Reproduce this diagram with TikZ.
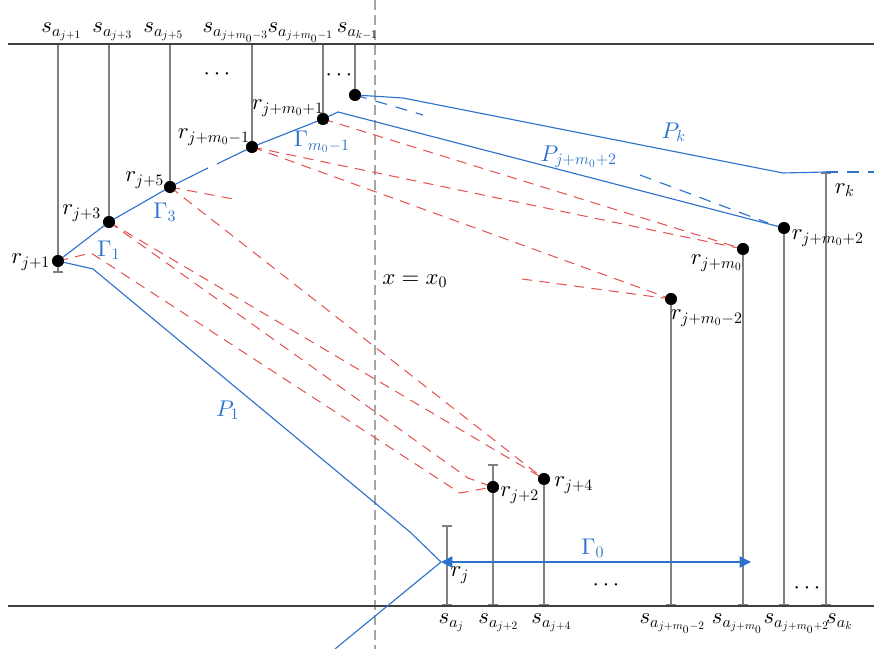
\documentclass[tikz,border=0pt]{standalone}
\usetikzlibrary{arrows.meta}
\DeclareFontFamily{OML}{cmm}{\skewchar\font127 }
\DeclareFontShape{OML}{cmm}{m}{it}{<-> cmmi10}{}
\DeclareFontFamily{OT1}{cmr}{\hyphenchar\font45 }
\DeclareFontShape{OT1}{cmr}{m}{n}{<-> cmr10}{}
\DeclareFontFamily{OMS}{cmsy}{\skewchar\font48 }
\DeclareFontShape{OMS}{cmsy}{m}{n}{<-> cmsy10}{}
\definecolor{pathblue}{RGB}{45,115,205}
\definecolor{cutred}{RGB}{228,82,82}
\tikzset{
    dot/.style={circle, fill=black, inner sep=0pt, minimum size=5.2pt},
    stem/.style={gray, line width=1pt, {Bar[width=4.5pt]}-{Bar[width=4.5pt]}},
    stemtop/.style={gray, line width=1pt, -{Bar[width=4.5pt]}},
    gpath/.style={pathblue, line width=0.5pt},
    gdash/.style={pathblue, line width=0.5pt, dash pattern=on 5.3pt off 4pt},
    cut/.style={cutred, line width=0.45pt, dash pattern=on 4.5pt off 3.2pt},
    axisline/.style={gray!70, line width=0.8pt, dash pattern=on 4.4pt off 2.2pt},
    bluelabel/.style={text=pathblue}
}
\begin{document}
\begin{tikzpicture}[x=0.44pt, y=-0.44pt]
                \useasboundingbox (0, 0) rectangle (874, 649);
                \coordinate (tl) at (8, 44);
                \coordinate (tr) at (874, 44);
                \coordinate (bl) at (8, 606);
                \coordinate (br) at (874, 606);
                \coordinate (xt) at (375, 0);
                \coordinate (xb) at (375, 649);
                \draw (xt)--(xb) [axisline];

                \coordinate (t1) at (58, 44);
                \coordinate (t3) at (109, 44);
                \coordinate (t5) at (170, 44);
                \coordinate (tm1) at (252, 44);
                \coordinate (tp1) at (323, 44);
                \coordinate (tk1) at (355, 44);
                \coordinate (e1) at (58, 273);
                \coordinate (ep1) at (323, 124);
                \coordinate (b0) at (447, 606);
                \coordinate (b2) at (493, 606);
                \coordinate (b4) at (544, 606);
                \coordinate (bm2) at (671, 606);
                \coordinate (bm) at (743, 606);
                \coordinate (bp2) at (784, 606);
                \coordinate (bk) at (826, 606);
                \coordinate (e0) at (447, 525);
                \coordinate (e2) at (493, 464);
                \coordinate (rk) at (826, 172);
                \coordinate (rj) at (441, 562);
                \coordinate (g0) at (751, 562);

                \node[dot] (r1) at (58, 261) {};
                \node[dot] (r3) at (109, 222) {};
                \node[dot] (r5) at (170, 187) {};
                \node[dot] (rm1) at (252, 147) {};
                \node[dot] (rp1) at (323, 119) {};
                \node[dot] (rk1) at (355, 95) {};
                \node[dot] (r2) at (493, 487) {};
                \node[dot] (r4) at (544, 479) {};
                \node[dot] (rm2) at (671, 299) {};
                \node[dot] (rm) at (743, 249) {};
                \node[dot] (rp2) at (784, 228) {};

                \draw (t1)--(e1) [stemtop];
                \draw (t3)--(r3.center) [stemtop];
                \draw (t5)--(r5.center) [stemtop];
                \draw (tm1)--(rm1.center) [stemtop];
                \draw (tp1)--(ep1) [stemtop];
                \draw (tk1)--(rk1.center) [stemtop];
                \draw (b0)--(e0) [stem];
                \draw (b2)--(e2) [stem];
                \draw (b4)--(r4.center) [stem];
                \draw (bm2)--(rm2.center) [stem];
                \draw (bm)--(rm.center) [stem];
                \draw (bp2)--(rp2.center) [stem];
                \draw (bk)--(rk) [stem];
                \draw (tl)--(tr) [black!75, line width=0.6pt];
                \draw (bl)--(br) [black!75, line width=0.6pt];

                \coordinate (ga) at (208, 168);
                \coordinate (gb) at (217, 164);
                \coordinate (q1) at (338, 112);
                \coordinate (k1) at (403, 98);
                \coordinate (k2) at (783, 173);
                \coordinate (kend) at (874, 172);
                \coordinate (ks) at (423, 115);
                \coordinate (da) at (640, 175);
                \coordinate (db) at (768, 223);
                \coordinate (p1) at (93, 269);
                \coordinate (p2) at (410, 532);
                \coordinate (low) at (335, 649);
                \draw (r1.center)--(r3.center)--(r5.center)--(ga) [gpath];
                \draw (gb)--(rm1.center)--(rp1.center)--(q1)--(rp2.center) [gpath];
                \draw (rk1.center)--(k1)--(k2)--(rk) [gpath];
                \draw (rk)--(kend) [gdash];
                \draw (rk1.center)--(ks) [gdash];
                \draw (da)--(db) [gdash];
                \draw (r1.center)--(p1)--(p2)--(rj) [gpath];
                \draw (low)--(rj) [gpath];
                \draw (rj)--(g0) [gpath, {Triangle[length=5pt, width=5pt]}-{Triangle[length=5pt, width=5pt]}];

                \coordinate (c1) at (91, 253);
                \coordinate (c2) at (460, 493);
                \coordinate (c3) at (468, 478);
                \coordinate (c5) at (233, 199);
                \coordinate (cm) at (522, 279);
                \draw (r1.center)--(c1)--(c2)--(r2.center) [cut];
                \draw (r3.center)--(c3)--(r2.center) [cut];
                \draw (r3.center)--(r4.center) [cut];
                \draw (r5.center)--(r4.center) [cut];
                \draw (r5.center)--(c5) [cut];
                \draw (rm1.center)--(rm2.center) [cut];
                \draw (rm1.center)--(rm.center) [cut];
                \draw (rp1.center)--(rm.center) [cut];
                \draw (cm)--(rm2.center) [cut];

                \foreach \n in {r1, r3, r5, rm1, rp1, rk1, r2, r4, rm2, rm, rp2} {
                    \node[dot] at (\n) {};
                }

                \node[anchor=base] (s1) at (62, 33) {$s_{a_{j+1}}$};
                \node[anchor=base] (s3) at (113, 33) {$s_{a_{j+3}}$};
                \node[anchor=base] (s5) at (164, 33) {$s_{a_{j+5}}$};
                \node[anchor=base] (sm3) at (236, 33) {$s_{a_{j+m_0-3}}$};
                \node[anchor=base] (sm1) at (301, 33) {$s_{a_{j+m_0-1}}$};
                \node[anchor=base] (sk1) at (358, 33) {$s_{a_{k-1}}$};
                \node[anchor=base] (s0) at (452, 624) {$s_{a_j}$};
                \node[anchor=base] (s2) at (499, 624) {$s_{a_{j+2}}$};
                \node[anchor=base] (s4) at (552, 624) {$s_{a_{j+4}}$};
                \node[anchor=base] (sm2) at (673, 624) {$s_{a_{j+m_0-2}}$};
                \node[anchor=base] (sm) at (738, 624) {$s_{a_{j+m_0}}$};
                \node[anchor=base] (sp2) at (797, 624) {$s_{a_{j+m_0+2}}$};
                \node[anchor=base] (sk) at (840, 624) {$s_{a_k}$};

                \node (lr1) at (31, 262) {$r_{j+1}$};
                \node (lr3) at (82, 213) {$r_{j+3}$};
                \node (lr5) at (145, 180) {$r_{j+5}$};
                \node (lrm1) at (214, 137) {$r_{j+m_0-1}$};
                \node (lrp1) at (288, 108) {$r_{j+m_0+1}$};
                \node (lrj) at (460, 575) {$r_j$};
                \node (lr2) at (520, 495) {$r_{j+2}$};
                \node (lr4) at (574, 485) {$r_{j+4}$};
                \node (lrm2) at (707, 318) {$r_{j+m_0-2}$};
                \node (lrm) at (717, 263) {$r_{j+m_0}$};
                \node (lrp2) at (828, 238) {$r_{j+m_0+2}$};
                \node (lrk) at (845, 190) {$r_k$};

                \node[bluelabel] (G1) at (109, 250) {$\Gamma_1$};
                \node[bluelabel] (G3) at (165, 212) {$\Gamma_3$};
                \node[bluelabel] (Gm) at (322, 142) {$\Gamma_{m_0-1}$};
                \node[bluelabel] (G0) at (593, 548) {$\Gamma_0$};
                \node[bluelabel] (Pk) at (674, 132) {$P_k$};
                \node[bluelabel] (Pm) at (579, 157) {$P_{j+m_0+2}$};
                \node[bluelabel] (P1) at (228, 410) {$P_1$};
                \node (xeq) at (415, 281) {$x=x_0$};

                \node (d1) at (217, 74) {$\cdots$};
                \node (d2) at (339, 75) {$\cdots$};
                \node (d3) at (606, 585) {$\cdots$};
                \node (d4) at (807, 588) {$\cdots$};
\end{tikzpicture}
\end{document}
